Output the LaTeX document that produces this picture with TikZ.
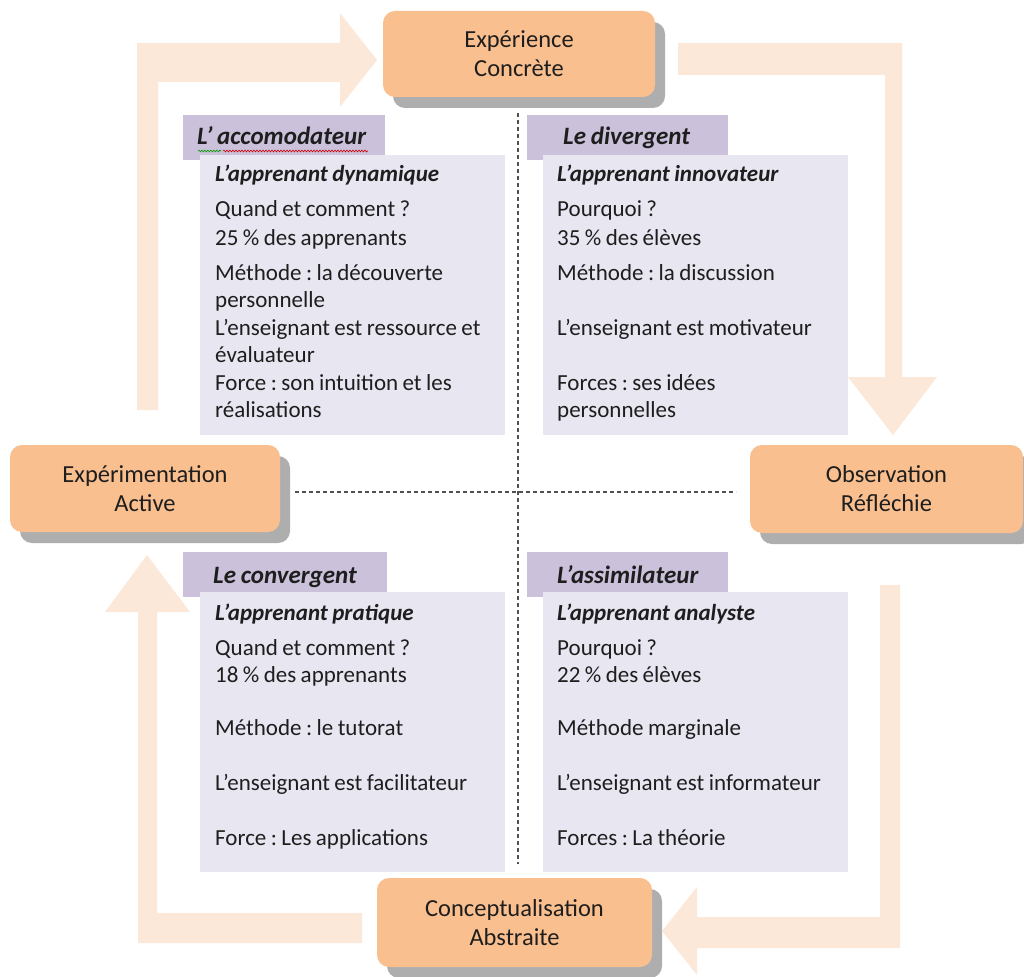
\documentclass[tikz,border=0pt]{standalone}
\usepackage{fontspec}
\setmainfont{Carlito}[WordSpace=0.85]
\usetikzlibrary{shadows,decorations.pathmorphing}
\definecolor{arrowc}{HTML}{FCE8D9}
\definecolor{boxc}{HTML}{F9BF8F}
\definecolor{shadowc}{HTML}{AEAEAE}
\definecolor{headc}{HTML}{CBC1DB}
\definecolor{contc}{HTML}{E8E6F1}
\definecolor{txtc}{HTML}{1E1E1E}
\definecolor{dashc}{HTML}{505050}
\frenchspacing
\begin{document}
\begin{tikzpicture}[x=1pt,y=-1pt,
  cycbox/.style={fill=boxc, rounded corners=12pt, align=center, inner sep=0pt,
    font=\fontsize{24.5}{29}\selectfont, text=txtc,
    drop shadow={shadow xshift=10pt, shadow yshift=-11pt, fill=shadowc, opacity=1}},
  ln/.style={anchor=base west, inner sep=0pt, font=\fontsize{23}{26}\selectfont, text=txtc},
  ttl/.style={anchor=base west, inner sep=0pt, font=\fontsize{23}{26}\selectfont\bfseries\itshape, text=txtc},
  hdr/.style={anchor=base west, inner sep=0pt, font=\fontsize{25}{28}\selectfont\bfseries\itshape, text=txtc},
  bigarrow/.style={fill=arrowc},
  sep/.style={draw=dashc, line width=1.8pt, dash pattern=on 4pt off 3pt}]
\useasboundingbox (0,0) rectangle (1024,976);
\fill[white] (0,0) rectangle (1024,976);

% cycle arrows
\fill[bigarrow] (137,410) -- (137,43) -- (340,43) -- (340,13) -- (377,60) -- (340,107) -- (340,82) -- (158,82) -- (158,410) -- cycle;
\fill[bigarrow] (678,43) -- (902,43) -- (902,377) -- (937,377) -- (893,435) -- (848,377) -- (885,377) -- (885,75) -- (678,75) -- cycle;
\fill[bigarrow] (880,585) -- (900,585) -- (900,948) -- (697,948) -- (697,975) -- (662,931) -- (697,887) -- (697,917) -- (880,917) -- cycle;
\fill[bigarrow] (362,943) -- (138,943) -- (138,612) -- (105,612) -- (147,555) -- (190,612) -- (157,612) -- (157,913) -- (362,913) -- cycle;

% dashed separators
\coordinate (vtop) at (518,113);
\coordinate (vbot) at (518,864);
\coordinate (hl) at (295,492);
\coordinate (hr) at (736,492);
\draw[sep] (vtop) -- (vbot);
\draw[sep] (hl) -- (hr);

% stage boxes
\node[cycbox, minimum width=272pt, minimum height=86pt] (ce) at (519,54) {Expérience\\Concrète};
\node[cycbox, minimum width=270pt, minimum height=87pt] (ea) at (145,488.5) {Expérimentation\\Active};
\node[cycbox, minimum width=273pt, minimum height=88pt] (or) at (886.5,489) {Observation\\Réfléchie};
\node[cycbox, minimum width=275pt, minimum height=89pt] (ca) at (514.5,922.5) {Conceptualisation\\Abstraite};

% header tabs
\fill[headc] (183,115) rectangle (385,160);
\fill[headc] (527,115) rectangle (728,160);
\fill[headc] (183,552) rectangle (387,597);
\fill[headc] (527,552) rectangle (728,597);

% content boxes
\fill[contc] (200,155) rectangle (505,435);
\fill[contc] (543,155) rectangle (848,435);
\fill[contc] (200,592) rectangle (505,872);
\fill[contc] (543,592) rectangle (848,872);

% header texts
\node[hdr] (hacc) at (197,145) {L’ accomodateur};
\draw[red!80!black, line width=0.6pt, decorate, decoration={snake, amplitude=0.9pt, segment length=3pt}] (223,151) -- (368,151);
\draw[green!60!black, line width=0.6pt, decorate, decoration={snake, amplitude=0.9pt, segment length=3pt}] (198,151) -- (221,151);
\node[hdr] (hdiv) at (563,145) {Le divergent};
\node[hdr] (hcon) at (213,583) {Le convergent};
\node[hdr] (hass) at (557,583) {L’assimilateur};

% top-left content
\node[ttl] (a1) at (215,182) {L’apprenant dynamique};
\node[ln] (a2) at (215,217) {Quand et comment ?};
\node[ln] (a3) at (215,245) {25 \% des apprenants};
\node[ln] (a4) at (215,280) {Méthode : la découverte};
\node[ln] (a5) at (215,307) {personnelle};
\node[ln] (a6) at (215,335) {L’enseignant est ressource et};
\node[ln] (a7) at (215,362) {évaluateur};
\node[ln] (a8) at (215,390) {Force : son intuition et les};
\node[ln] (a9) at (215,417) {réalisations};

% top-right content
\node[ttl] (b1) at (557,182) {L’apprenant innovateur};
\node[ln] (b2) at (557,217) {Pourquoi ?};
\node[ln] (b3) at (557,245) {35 \% des élèves};
\node[ln] (b4) at (557,280) {Méthode : la discussion};
\node[ln] (b5) at (557,335) {L’enseignant est motivateur};
\node[ln] (b6) at (557,390) {Forces : ses idées};
\node[ln] (b7) at (557,417) {personnelles};

% bottom-left content
\node[ttl] (c1) at (215,620) {L’apprenant pratique};
\node[ln] (c2) at (215,655) {Quand et comment ?};
\node[ln] (c3) at (215,682) {18 \% des apprenants};
\node[ln] (c4) at (215,735) {Méthode : le tutorat};
\node[ln] (c5) at (215,790) {L’enseignant est facilitateur};
\node[ln] (c6) at (215,845) {Force : Les applications};

% bottom-right content
\node[ttl] (d1) at (557,620) {L’apprenant analyste};
\node[ln] (d2) at (557,655) {Pourquoi ?};
\node[ln] (d3) at (557,682) {22 \% des élèves};
\node[ln] (d4) at (557,735) {Méthode marginale};
\node[ln] (d5) at (557,790) {L’enseignant est informateur};
\node[ln] (d6) at (557,845) {Forces : La théorie};
\end{tikzpicture}
\end{document}
